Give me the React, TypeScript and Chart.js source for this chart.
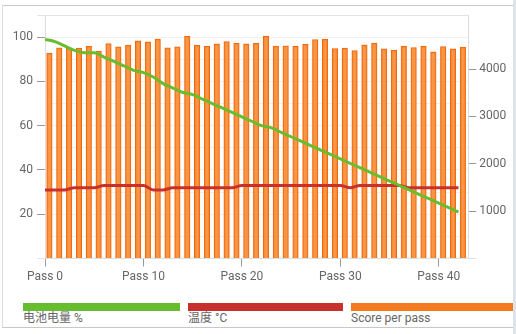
import React, { useEffect, useRef } from 'react';
import { Chart, registerables } from 'chart.js';

Chart.register(...registerables);

const passNumbers = [0, 1, 2, 3, 4, 5, 6, 7, 8, 9, 10, 11, 12, 13, 14, 15, 16, 17, 18, 19, 20, 21, 22, 23, 24, 25, 26, 27, 28, 29, 30, 31, 32, 33, 34, 35, 36, 37, 38, 39, 40, 41, 42];

const battery = [99, 98, 96, 94, 93, 93, 91, 89, 87, 85, 84, 82, 79, 77, 75, 74, 72, 70, 68, 66, 64, 62, 60, 59, 57, 55, 53, 51, 49, 47, 45, 43, 41, 39, 37, 35, 33, 31, 29, 27, 25, 23, 21];

const temperature = [31, 31, 31, 32, 32, 32, 33, 33, 33, 33, 33, 31, 31, 32, 32, 32, 32, 32, 32, 32, 33, 33, 33, 33, 33, 33, 33, 33, 33, 33, 33, 32, 33, 33, 33, 33, 33, 32, 32, 32, 32, 32, 32];

const scores = [4335, 4447, 4447, 4441, 4483, 4378, 4538, 4469, 4505, 4595, 4574, 4631, 4447, 4469, 4695, 4505, 4483, 4532, 4581, 4547, 4532, 4547, 4695, 4483, 4490, 4483, 4526, 4623, 4631, 4433, 4441, 4390, 4511, 4547, 4426, 4399, 4483, 4454, 4483, 4363, 4475, 4426, 4462];

const leftLabels = [20, 40, 60, 80, 100];
const rightTicks = [0, 1000, 2000, 3000, 4000, 5000];
const rightLabels = [1000, 2000, 3000, 4000];

const seriesNames = ['电池电量 %', '温度 °C', 'Score per pass'];
const GREEN = '#68bd2e';
const RED = '#c8302e';
const ORANGE = '#f47b20';

const FONT = "Roboto, 'Noto Sans CJK SC', sans-serif";

export default function App() {
  const ref = useRef<HTMLCanvasElement>(null);

  useEffect(() => {
    if (!ref.current) return;
    Chart.defaults.font.family = FONT;
    const chart = new Chart(ref.current, {
      type: 'line',
      data: {
        datasets: [
          {
            type: 'line',
            label: seriesNames[0],
            data: passNumbers.map((p, i) => ({ x: p, y: battery[i] })),
            xAxisID: 'x',
            yAxisID: 'y',
            borderColor: GREEN,
            borderWidth: 3,
            pointRadius: 0,
            cubicInterpolationMode: 'monotone',
            order: 0,
          },
          {
            type: 'line',
            label: seriesNames[1],
            data: passNumbers.map((p, i) => ({ x: p, y: temperature[i] })),
            xAxisID: 'x',
            yAxisID: 'y',
            borderColor: RED,
            borderWidth: 3,
            pointRadius: 0,
            cubicInterpolationMode: 'monotone',
            order: 1,
          },
          {
            type: 'bar',
            label: seriesNames[2],
            data: passNumbers.map((p, i) => ({ x: p, y: scores[i] })),
            xAxisID: 'xBar',
            yAxisID: 'y1',
            backgroundColor: 'rgba(247,135,45,0.88)',
            borderColor: '#f0670a',
            borderWidth: 1,
            barThickness: 5.5,
            order: 2,
          },
        ],
      } as any,
      options: {
        animation: false,
        responsive: false,
        devicePixelRatio: 1,
        layout: { padding: { top: 15, left: 0, right: 0, bottom: 0 } },
        plugins: { legend: { display: false }, tooltip: { enabled: false } },
        scales: {
          x: {
            type: 'linear',
            position: 'bottom',
            min: 0,
            max: 43,
            offset: false,
            ticks: {
              stepSize: 10,
              includeBounds: false,
              maxRotation: 0,
              color: '#666',
              font: { size: 12 },
              padding: 3,
              callback: (v: any) => 'Pass ' + v,
            },
            grid: { drawOnChartArea: false, tickLength: 8, tickColor: '#999', offset: false },
            border: { color: '#dddddd' },
            afterFit: (s: any) => { s.height = 31.5; },
          },
          xBar: {
            type: 'linear',
            display: false,
            offset: false,
            grid: { offset: false },
            min: -0.17,
            max: 42.83,
          },
          y: {
            type: 'linear',
            position: 'left',
            min: 0,
            max: 110,
            ticks: {
              stepSize: 10,
              includeBounds: false,
              color: '#666',
              font: { size: 12 },
              padding: 4,
              callback: (v: any) => (leftLabels.includes(v) ? String(v) : ''),
            },
            grid: {
              tickLength: 8,
              color: (c: any) => (c.tick && (c.tick.value === 0 || c.tick.value === 110) ? '#e2e2e2' : '#f0f0f0'),
              tickColor: (c: any) => {
                const v = c.tick && c.tick.value;
                if (leftLabels.includes(v)) return '#999';
                if (v === 0 || v === 110) return '#e2e2e2';
                return 'rgba(0,0,0,0)';
              },
            },
            border: { color: '#dddddd' },
            afterFit: (s: any) => { s.width = 45; },
          },
          y1: {
            type: 'linear',
            position: 'right',
            min: 0,
            max: 5140,
            afterBuildTicks: (s: any) => { s.ticks = rightTicks.map((v) => ({ value: v })); },
            ticks: {
              color: '#666',
              font: { size: 12 },
              padding: 3,
              callback: (v: any) => (rightLabels.includes(v) ? String(v) : ''),
            },
            grid: {
              drawOnChartArea: false,
              tickLength: 8,
              tickColor: (c: any) => {
                const v = c.tick && c.tick.value;
                if (rightLabels.includes(v)) return '#999';
                if (v === 0) return '#e2e2e2';
                return 'rgba(0,0,0,0)';
              },
            },
            border: { color: '#dddddd' },
            afterFit: (s: any) => { s.width = 47.7; },
          },
        },
      } as any,
    });
    return () => chart.destroy();
  }, []);

  const legendColors = [GREEN, RED, ORANGE];
  const legendLeft = [23, 188, 351];
  const legendWidth = [157, 155, 162];

  return (
    <div style={{ position: 'fixed', left: 0, top: 0, width: 516, height: 334, background: '#fff', overflow: 'hidden', fontFamily: FONT }}>
      <div style={{ position: 'absolute', left: 2, top: 5, width: 510, height: 321, borderTop: '1px solid #c8c8c8', borderBottom: '1px solid #c8c8c8', borderLeft: '1px solid #dcdcdc', borderRight: '1px solid #c8c8c8' }} />
      <div style={{ position: 'absolute', left: 513, top: 0, width: 3, height: 334, background: '#dde4ec' }} />
      <canvas ref={ref} width={516} height={290} style={{ position: 'absolute', left: 0, top: 0, width: 516, height: 290 }} />
      {seriesNames.map((name, i) => (
        <React.Fragment key={name}>
          <div style={{ position: 'absolute', left: legendLeft[i], top: 303, width: legendWidth[i], height: 8, background: legendColors[i] }} />
          <div style={{ position: 'absolute', left: legendLeft[i], top: 311, fontSize: 12, lineHeight: '14px', color: '#666', whiteSpace: 'nowrap' }}>{name}</div>
        </React.Fragment>
      ))}
    </div>
  );
}
